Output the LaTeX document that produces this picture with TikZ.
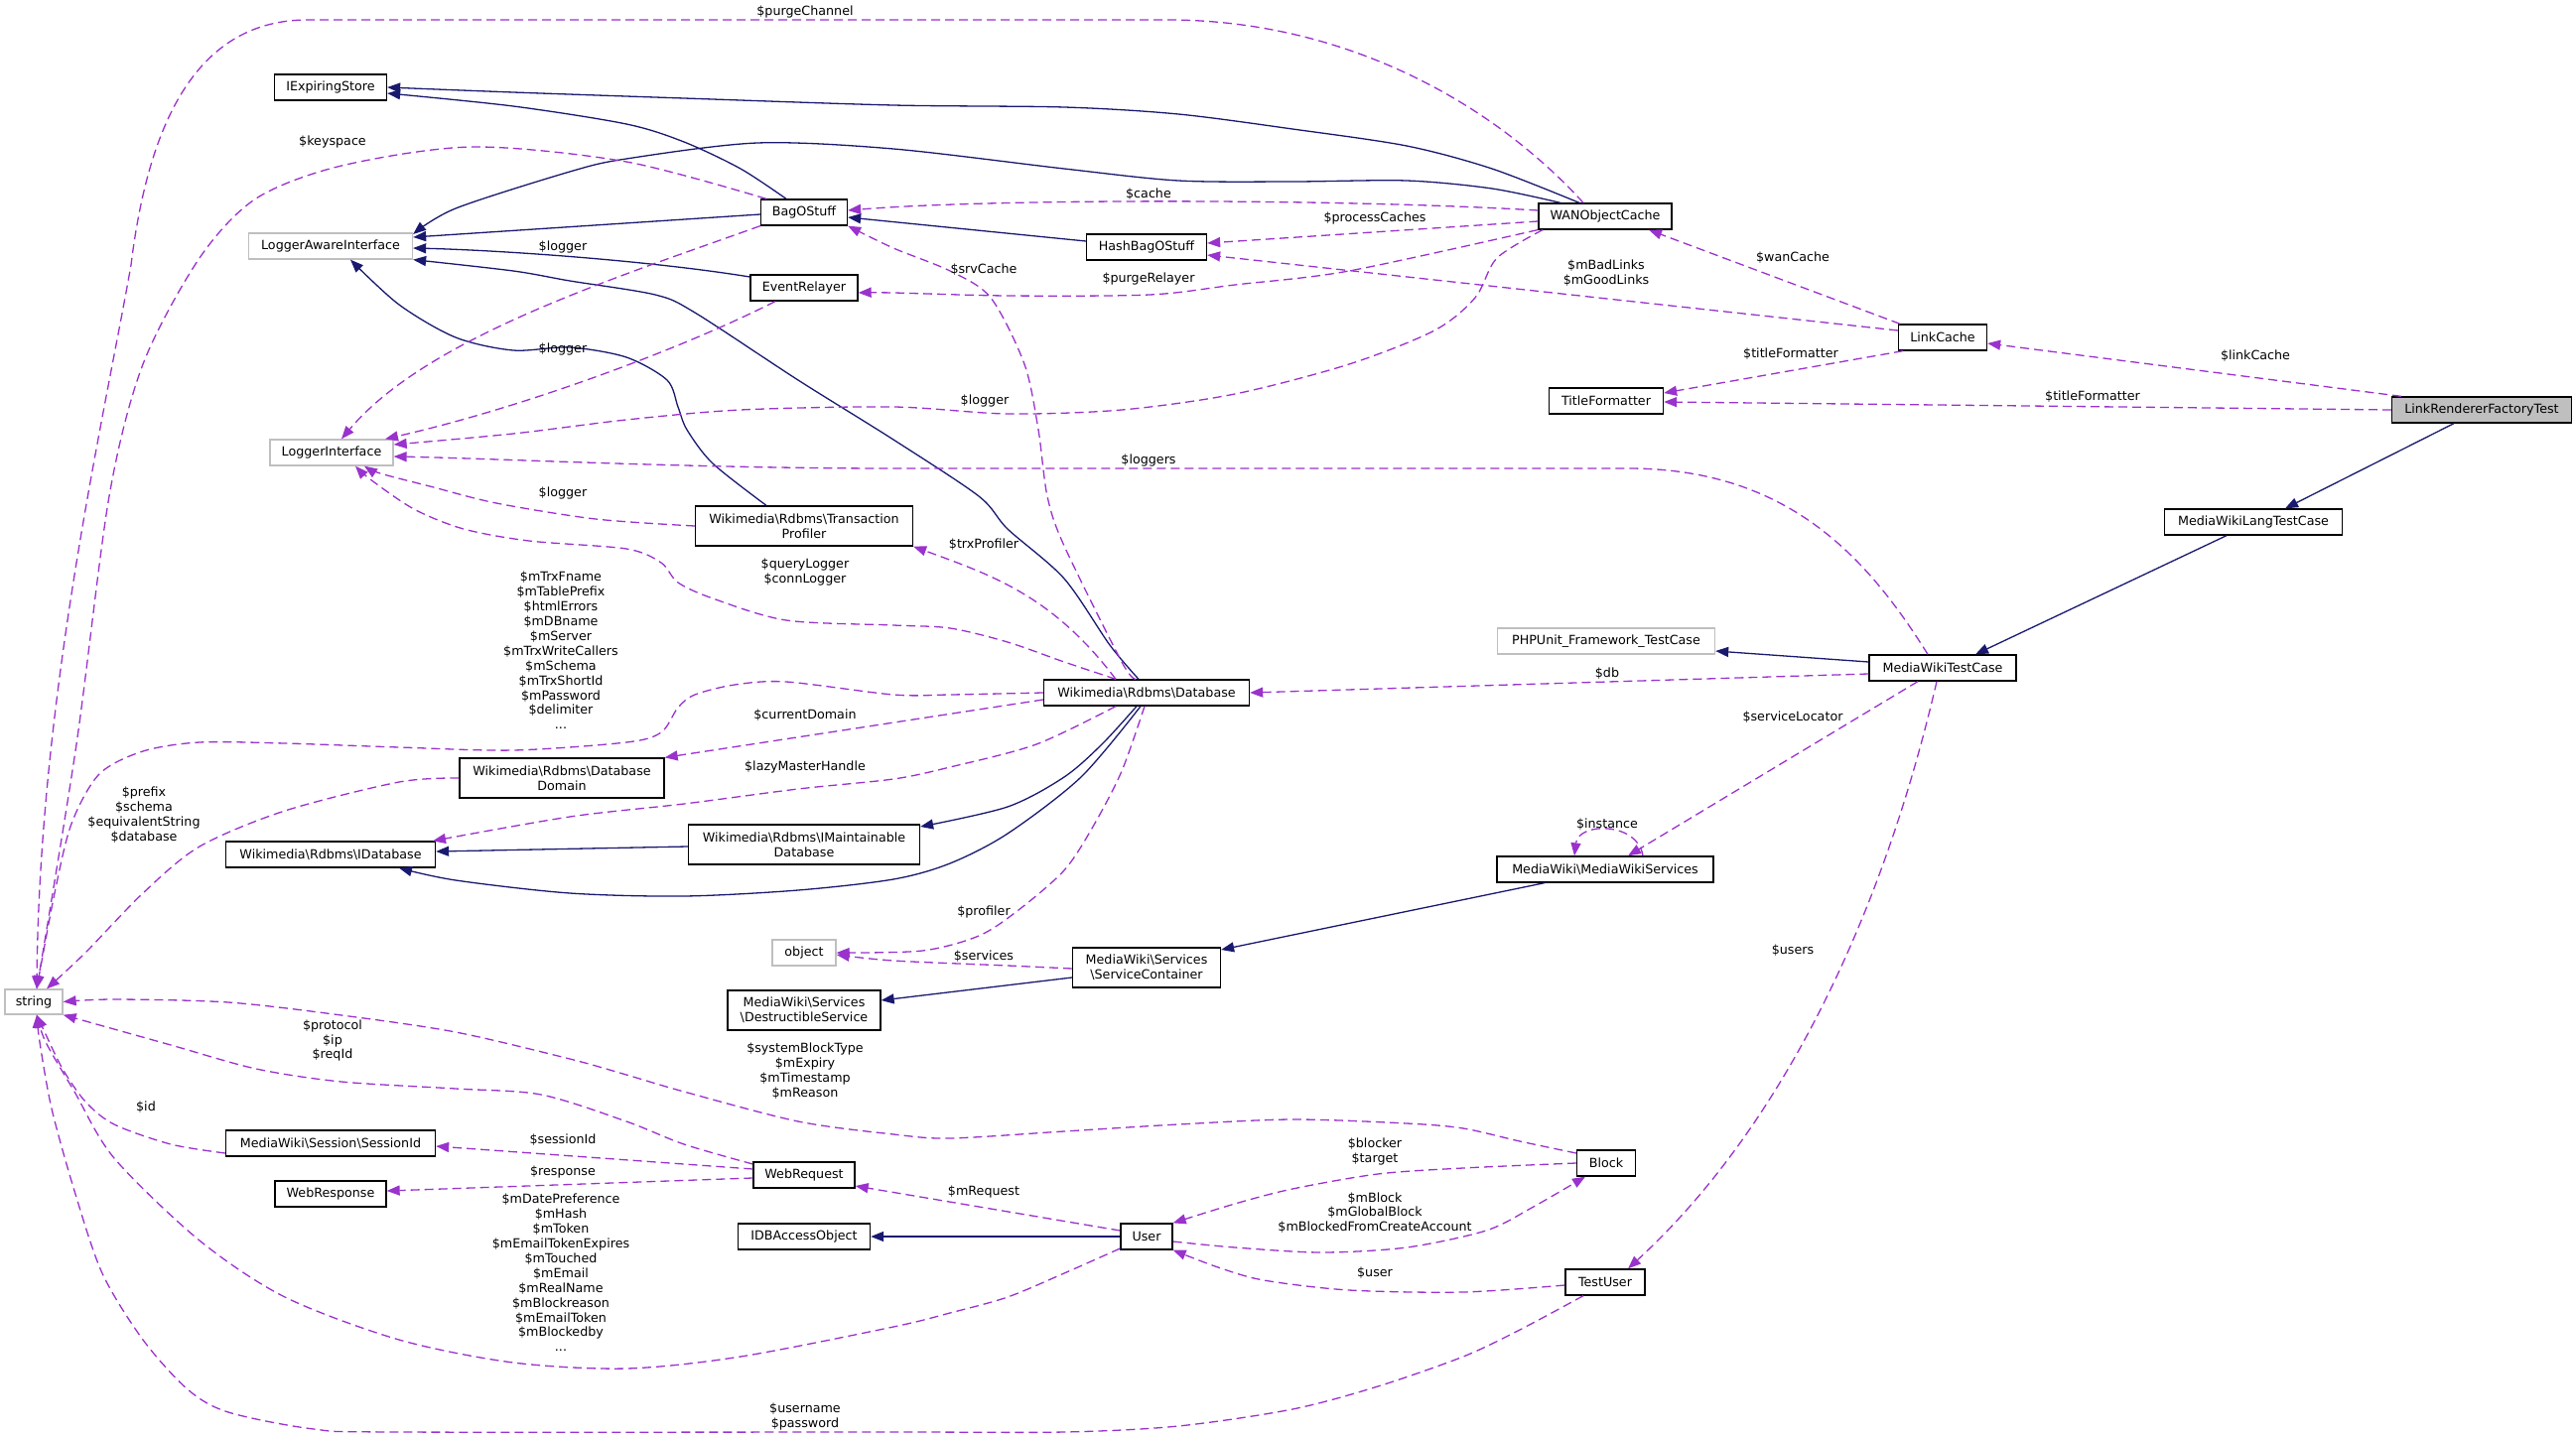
\documentclass[tikz,border=0pt]{standalone}
\usepackage{fontspec}
\setmainfont{DejaVu Sans}
\usetikzlibrary{arrows.meta}
\definecolor{navy}{HTML}{191970}
\definecolor{orch}{HTML}{9A32CD}
\definecolor{grayb}{HTML}{BFBFBF}
\begin{document}
\begin{tikzpicture}[x=1pt,y=-1pt,
 font=\fontsize{12.7}{14.9}\selectfont,
 box/.style={draw=black, line width=1.3pt, fill=white, minimum height=26pt, inner sep=0pt, align=center},
 gbox/.style={box, draw=grayb},
 tall/.style={minimum height=40pt},
 lbl/.style={inner sep=0pt, align=center},
 inhedge/.style={color=navy, line width=1.3pt, -{Triangle[length=13pt,width=10pt]}},
 usedge/.style={color=orch, line width=1.3pt, dash pattern=on 9pt off 5pt, -{Triangle[length=13pt,width=10pt]}},
]
\useasboundingbox (0,0) rectangle (2595,1448);

% nodes
\node[box, fill=grayb, minimum width=181pt] (lrf) at (2500,413) {LinkRendererFactoryTest};
\node[box, minimum width=179pt] (lang) at (2270,526) {MediaWikiLangTestCase};
\node[box, minimum width=148pt] (mwtc) at (1957,673) {MediaWikiTestCase};
\node[gbox, minimum width=219pt] (phpunit) at (1618,646) {PHPUnit\_Framework\_TestCase};
\node[box, minimum width=89pt] (linkcache) at (1957,340) {LinkCache};
\node[box, minimum width=115pt] (titlef) at (1618,404) {TitleFormatter};
\node[box, minimum width=134pt] (wan) at (1617,218) {WANObjectCache};
\node[box, minimum width=121pt] (hash) at (1155,249) {HashBagOStuff};
\node[box, minimum width=87pt] (bag) at (810,214) {BagOStuff};
\node[box, minimum width=108pt] (event) at (810,290) {EventRelayer};
\node[box, minimum width=113pt] (iexp) at (333,88) {IExpiringStore};
\node[gbox, minimum width=165pt] (lai) at (333,248) {LoggerAwareInterface};
\node[gbox, minimum width=124pt] (li) at (334,456) {LoggerInterface};
\node[box, tall, minimum width=219pt] (tp) at (810,530) {Wikimedia\textbackslash Rdbms\textbackslash Transaction\\Profiler};
\node[box, minimum width=207pt] (db) at (1155,698) {Wikimedia\textbackslash Rdbms\textbackslash Database};
\node[box, tall, minimum width=206pt] (dd) at (566,784) {Wikimedia\textbackslash Rdbms\textbackslash Database\\Domain};
\node[box, minimum width=211pt] (idb) at (333,861) {Wikimedia\textbackslash Rdbms\textbackslash IDatabase};
\node[box, tall, minimum width=233pt] (imd) at (810,851) {Wikimedia\textbackslash Rdbms\textbackslash IMaintainable\\Database};
\node[gbox, minimum width=64pt] (obj) at (810,960) {object};
\node[box, minimum width=218pt] (mws) at (1617,876) {MediaWiki\textbackslash MediaWikiServices};
\node[box, tall, minimum width=149pt] (sc) at (1155,975) {MediaWiki\textbackslash Services\\\textbackslash ServiceContainer};
\node[box, tall, minimum width=154pt] (ds) at (810,1018) {MediaWiki\textbackslash Services\\\textbackslash DestructibleService};
\node[gbox, minimum width=58pt, minimum height=25pt] (str) at (34,1009.5) {string};
\node[box, minimum width=211pt] (sid) at (333,1152) {MediaWiki\textbackslash Session\textbackslash SessionId};
\node[box, minimum width=102pt] (wreq) at (810,1184) {WebRequest};
\node[box, minimum width=112pt] (wresp) at (333,1203) {WebResponse};
\node[box, minimum width=133pt] (idbao) at (810,1246) {IDBAccessObject};
\node[box, minimum width=52pt] (user) at (1155,1246) {User};
\node[box, minimum width=59pt] (block) at (1618,1172) {Block};
\node[box, minimum width=80pt] (testuser) at (1617,1292) {TestUser};

% inheritance edges
\draw[inhedge] ([xshift=-28pt]lrf.south) -- ([xshift=32pt]lang.north);
\draw[inhedge] ([xshift=-27pt]lang.south) -- ([xshift=33pt]mwtc.north);
\draw[inhedge] ([yshift=6pt]mwtc.west) -- ([yshift=-10pt]phpunit.east);
\draw[inhedge] ([xshift=-61pt]mws.south) -- ([yshift=18pt]sc.east);
\draw[inhedge] ([yshift=-10pt]sc.west) -- ([yshift=10pt]ds.east);
\draw[inhedge] (user.west) -- (idbao.east);
\draw[inhedge] ([yshift=6pt]hash.west) -- ([yshift=-5pt]bag.east);
\draw[inhedge] ([yshift=-2pt]bag.west) -- ([yshift=9pt]lai.east);
\draw[inhedge] ([yshift=-2pt]imd.west) -- ([yshift=3pt]idb.east);
\draw[inhedge] plot[smooth] coordinates {([xshift=-26pt]wan.north) (1503,170) (1417,147) (1302,130) (1187,115) (1072,108) (900,106) (689,99) (517,93) (iexp.east)};
\draw[inhedge] plot[smooth] coordinates {([xshift=-18pt]bag.north) (746,170) (689,143) (631,125) (517,107) ([yshift=-6pt]iexp.east)};
\draw[inhedge] plot[smooth] coordinates {([xshift=-45pt]wan.north) (1503,190) (1417,182) (1302,183) (1187,182) (1072,170) (900,150) (763,144) (631,160) (574,173) (459,210) ([yshift=12pt]lai.east)};
\draw[inhedge] ([yshift=11pt]event.west) .. controls (650,262) and (500,252) .. ([yshift=-2pt]lai.east);
\draw[inhedge] plot[smooth] coordinates {([xshift=-8pt]db.north) (1118,650) (1072,583) (1015,533) (986,500) (900,443) (804,383) (700,315) (660,297) (574,283) (517,273) (lai.south east)};
\draw[inhedge] plot[smooth] coordinates {([xshift=-38pt]tp.north) (718,467) (692,433) (683,410) (672,383) (631,360) (574,350) (517,353) (459,340) (402,307) ([xshift=20pt]lai.south)};
\draw[inhedge] plot[smooth] coordinates {([xshift=-10pt]db.south) (1110,750) (1072,783) (1015,813) ([yshift=18pt]imd.east)};
\draw[inhedge] plot[smooth] coordinates {([xshift=-6pt]db.south) (1089,783) (1015,840) (957,870) (900,886) (804,897) (689,903) (574,900) (459,887) ([xshift=69pt]idb.south)};

% usage edges
\draw[usedge] ([xshift=-22pt]wan.north) .. controls (1500,100) and (1350,20) .. (1176,20) -- (310,20) .. controls (200,20) and (150,120) .. (132,267) .. controls (105,420) and (40,700) .. ([xshift=3pt]str.north);
\draw[usedge] plot[smooth] coordinates {([xshift=-38pt]bag.north) (631,163) (476,148) (344,167) (258,200) (201,260) (144,367) (110,500) (77,750) ([xshift=3pt]str.north)};
\draw[usedge] (bag.south west) .. controls (620,280) and (430,340) .. ([xshift=10pt]li.north);
\draw[usedge] ([xshift=-29pt]event.south) .. controls (690,350) and (530,410) .. ([xshift=54pt]li.north);
\draw[usedge] plot[smooth] coordinates {([xshift=-63pt]wan.south) (1508,260) (1486,300) (1445,333) (1359,367) (1244,397) (1130,413) (1015,417) (900,410) (746,413) (631,423) (517,437) ([yshift=8pt]li.east)};
\draw[usedge] ([xshift=-15pt]mwtc.north) .. controls (1880,560) and (1800,472) .. (1640,472) -- (900,472) .. controls (700,472) and (500,462) .. ([yshift=-4pt]li.east);
\draw[usedge] plot[smooth] coordinates {(tp.west) (600,523) (500,507) (433,490) (383,477) ([xshift=33pt]li.south)};
\draw[usedge] plot[smooth] coordinates {([xshift=-31pt]db.north) (1072,667) (1015,647) (957,633) (900,630) (792,625) (718,603) (683,587) (666,567) (631,553) (533,545) (467,533) (417,513) (373,483) ([xshift=24pt]li.south)};
\draw[usedge] ([xshift=-31pt]db.north) .. controls (1060,600) and (1000,580) .. (tp.south east);
\draw[usedge] plot[smooth] coordinates {([xshift=-11pt]db.north) (1130,667) (1072,550) (1055,500) (1046,433) (1032,367) (998,300) (957,273) (900,250) (bag.south east)};
\draw[usedge] ([yshift=6pt]wan.west) .. controls (1350,200) and (1000,200) .. ([yshift=2pt]bag.east);
\draw[usedge] ([yshift=-5pt]wan.west) -- ([yshift=4pt]hash.east);
\draw[usedge] plot[smooth] coordinates {([xshift=-68pt]wan.south) (1359,273) (1244,287) (1158,297) (1015,298) (900,295) ([yshift=-5pt]event.east)};
\draw[usedge] ([yshift=7pt]linkcache.west) -- ([yshift=-8pt]hash.east);
\draw[usedge] ([xshift=-43pt]linkcache.north) -- ([xshift=44pt]wan.south);
\draw[usedge] ([xshift=-40pt]linkcache.south) -- ([yshift=8pt]titlef.east);
\draw[usedge] ([xshift=-81pt]lrf.north) -- ([yshift=-6pt]linkcache.east);
\draw[usedge] (lrf.west) -- ([yshift=-1pt]titlef.east);
\draw[usedge] ([yshift=-6pt]mwtc.west) -- (db.east);
\draw[usedge] ([xshift=-25pt]mwtc.south) -- ([xshift=23pt]mws.north);
\draw[usedge] ([xshift=38pt]mws.north) .. controls (1650,828) and (1590,828) .. ([xshift=-31pt]mws.north);
\draw[usedge] ([xshift=-6pt]mwtc.south) .. controls (1890,950) and (1780,1150) .. ([xshift=23pt]testuser.north);
\draw[usedge] ([yshift=-7pt]db.west) -- (dd.north east);
\draw[usedge] plot[smooth] coordinates {([xshift=-31pt]db.south) (1044,750) (957,773) (900,785) (804,795) (689,810) (574,823) ([xshift=103pt]idb.north)};
\draw[usedge] plot[smooth] coordinates {(db.west) (957,700) (900,700) (792,687) (740,690) (700,700) (683,713) (666,738) (631,748) (517,756) (402,753) (287,749) (201,748) (144,757) (100,780) (72,830) (55,900) ([xshift=3pt]str.north)};
\draw[usedge] plot[smooth] coordinates {(dd.west) (402,788) (287,817) (201,853) (144,900) (86,960) ([xshift=13pt]str.north)};
\draw[usedge] plot[smooth] coordinates {([xshift=-2pt]db.south) (1130,777) (1101,833) (1072,877) (1026,917) (986,943) (929,958) (obj.east)};
\draw[usedge] plot[smooth] coordinates {([yshift=-1pt]sc.west) (1015,973) (900,968) ([yshift=-2pt]obj.east)};
\draw[usedge] plot[smooth] coordinates {([yshift=10pt]block.west) (1531,1150) (1474,1137) (1417,1132) (1302,1128) (1187,1133) (1072,1140) (957,1147) (900,1143) (804,1130) (689,1100) (631,1083) (574,1067) (459,1040) (344,1023) (230,1010) (115,1007) (str.east)};
\draw[usedge] plot[smooth] coordinates {([yshift=11pt]wreq.west) (689,1153) (631,1130) (545,1103) (459,1097) (344,1090) (258,1077) (172,1053) (str.south east)};
\draw[usedge] plot[smooth] coordinates {([yshift=-10pt]sid.west) (172,1153) (115,1133) (86,1110) (63,1077) (45,1040) ([xshift=3pt]str.south)};
\draw[usedge] ([yshift=6pt]wreq.west) -- ([yshift=-3pt]sid.east);
\draw[usedge] ([yshift=-3pt]wreq.west) -- ([yshift=3pt]wresp.east);
\draw[usedge] ([yshift=6pt]user.west) -- ([yshift=-11pt]wreq.east);
\draw[usedge] plot[smooth] coordinates {([yshift=-12pt]user.west) (1072,1283) (1015,1307) (957,1323) (900,1337) (746,1367) (631,1379) (517,1373) (402,1350) (287,1307) (201,1250) (115,1167) (75,1100) (46,1050) ([xshift=3pt]str.south)};
\draw[usedge] plot[smooth] coordinates {([xshift=-22pt]testuser.south) (1531,1340) (1474,1367) (1388,1397) (1302,1420) (1187,1437) (1072,1443) (900,1443) (402,1443) (316,1440) (230,1423) (189,1400) (144,1350) (103,1283) (75,1200) (52,1117) (40,1050) ([xshift=3pt]str.south)};
\draw[usedge] plot[smooth] coordinates {(block.west) (1474,1177) (1388,1183) (1302,1198) (1244,1213) (user.north east)};
\draw[usedge] plot[smooth] coordinates {([yshift=-5pt]user.east) (1244,1257) (1331,1262) (1417,1257) (1497,1240) (1543,1217) ([xshift=-21pt]block.south)};
\draw[usedge] plot[smooth] coordinates {([yshift=-3pt]testuser.west) (1474,1302) (1359,1300) (1273,1290) (1227,1277) (user.south east)};

% labels
\node[lbl] (la1) at (811,12) {\$purgeChannel};
\node[lbl] (la2) at (335,143) {\$keyspace};
\node[lbl] (la3) at (567,249) {\$logger};
\node[lbl] (la4) at (567,352) {\$logger};
\node[lbl] (la5) at (567,497) {\$logger};
\node[lbl] (la6) at (1157,196) {\$cache};
\node[lbl] (la7) at (1385,220) {\$processCaches};
\node[lbl] (la8) at (991,272) {\$srvCache};
\node[lbl] (la9) at (1157,281) {\$purgeRelayer};
\node[lbl] (la10) at (1618,275.5) {\$mBadLinks\\\$mGoodLinks};
\node[lbl] (la11) at (1806,260) {\$wanCache};
\node[lbl] (la12) at (1804,357) {\$titleFormatter};
\node[lbl] (la13) at (2272,359) {\$linkCache};
\node[lbl] (la14) at (2108,400) {\$titleFormatter};
\node[lbl] (la15) at (992,404) {\$logger};
\node[lbl] (la16) at (1157,464) {\$loggers};
\node[lbl] (la17) at (991,549) {\$trxProfiler};
\node[lbl] (la18) at (811,576.5) {\$queryLogger\\\$connLogger};
\node[lbl] (la19) at (565,655.5) {\$mTrxFname\\\$mTablePrefix\\\$htmlErrors\\\$mDBname\\\$mServer\\\$mTrxWriteCallers\\\$mSchema\\\$mTrxShortId\\\$mPassword\\\$delimiter\\...};
\node[lbl] (la20) at (811,721) {\$currentDomain};
\node[lbl] (la21) at (811,773) {\$lazyMasterHandle};
\node[lbl] (la22) at (145,821) {\$prefix\\\$schema\\\$equivalentString\\\$database};
\node[lbl] (la23) at (1619,679) {\$db};
\node[lbl] (la24) at (1806,723) {\$serviceLocator};
\node[lbl] (la25) at (1619,831) {\$instance};
\node[lbl] (la26) at (991,919) {\$profiler};
\node[lbl] (la27) at (991,964) {\$services};
\node[lbl] (la28) at (1806,958) {\$users};
\node[lbl] (la29) at (335,1048.5) {\$protocol\\\$ip\\\$reqId};
\node[lbl] (la30) at (811,1079) {\$systemBlockType\\\$mExpiry\\\$mTimestamp\\\$mReason};
\node[lbl] (la31) at (147,1116) {\$id};
\node[lbl] (la32) at (567,1149) {\$sessionId};
\node[lbl] (la33) at (567,1181) {\$response};
\node[lbl] (la34) at (565,1282.5) {\$mDatePreference\\\$mHash\\\$mToken\\\$mEmailTokenExpires\\\$mTouched\\\$mEmail\\\$mRealName\\\$mBlockreason\\\$mEmailToken\\\$mBlockedby\\...};
\node[lbl] (la35) at (991,1201) {\$mRequest};
\node[lbl] (la36) at (1385,1160.5) {\$blocker\\\$target};
\node[lbl] (la37) at (1385,1222) {\$mBlock\\\$mGlobalBlock\\\$mBlockedFromCreateAccount};
\node[lbl] (la38) at (1385,1283) {\$user};
\node[lbl] (la39) at (811,1427.5) {\$username\\\$password};
\end{tikzpicture}
\end{document}
